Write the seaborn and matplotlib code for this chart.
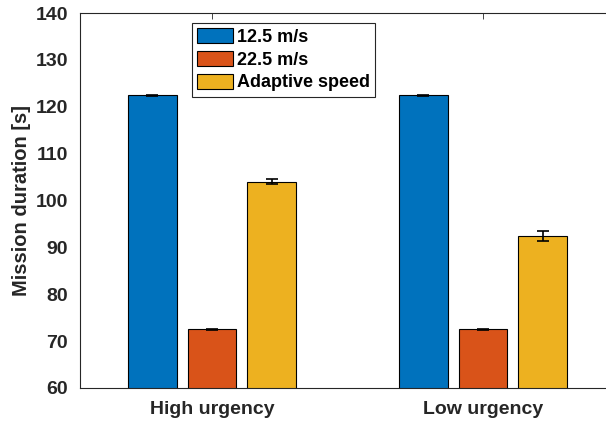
import matplotlib
matplotlib.use("Agg")
import matplotlib.pyplot as plt
import seaborn as sns
import pandas as pd
import numpy as np

# Mission duration per urgency level and speed strategy
scenarios = ["High urgency", "Low urgency"]
strategies = ["12.5 m/s", "22.5 m/s", "Adaptive speed"]
mean_high = [122.5, 72.5, 104.0]
mean_low = [122.5, 72.5, 92.4]
err_high = [0.1, 0.1, 0.55]
err_low = [0.1, 0.1, 1.0]

colors = ["#0072BD", "#D95319", "#EDB120"]
text_color = "#262626"

df = pd.DataFrame({
    "scenario": np.repeat(scenarios, len(strategies)),
    "strategy": strategies * len(scenarios),
    "duration": mean_high + mean_low,
    "err": err_high + err_low,
})

sns.set_style("white")
plt.rcParams["font.family"] = ["Liberation Sans", "DejaVu Sans"]
plt.rcParams["font.weight"] = "bold"

fig = plt.figure(figsize=(6.06, 4.24), dpi=100)
ax = fig.add_axes([80 / 606, 36 / 424, 526 / 606, 375 / 424])

sns.barplot(data=df, x="scenario", y="duration", hue="strategy",
            hue_order=strategies, order=scenarios, palette=colors,
            errorbar=None, width=0.66, gap=0.18, edgecolor="black",
            linewidth=0.8, saturation=1, ax=ax)

# error bars at each bar's centre
for i, strat in enumerate(strategies):
    container = ax.containers[i]
    sub = df[df["strategy"] == strat].set_index("scenario").loc[scenarios]
    xs = [p.get_x() + p.get_width() / 2 for p in container.patches]
    ax.errorbar(xs, sub["duration"].values, yerr=sub["err"].values,
                fmt="none", ecolor="black", elinewidth=1.2, capsize=4,
                capthick=1.2, zorder=5)

ax.set_ylim(60, 140)
ax.set_xlim(-0.487, 1.454)
ax.set_yticks(np.arange(60, 141, 10))
ax.set_xlabel("")
ax.set_ylabel("Mission duration [s]", fontsize=14.5, fontweight="bold",
              color=text_color, labelpad=3.5)

ax.tick_params(axis="both", direction="in", length=4, width=0.6,
               labelsize=14, colors=text_color)
ax.tick_params(axis="y", right=False, pad=8.5)
ax.tick_params(axis="x", top=True, pad=9)
for lab in ax.get_xticklabels() + ax.get_yticklabels():
    lab.set_fontweight("bold")

for side in ["left", "bottom", "top"]:
    ax.spines[side].set_visible(True)
    ax.spines[side].set_color(text_color)
    ax.spines[side].set_linewidth(0.8)
ax.spines["right"].set_visible(False)

leg = ax.legend(loc="upper left", bbox_to_anchor=(0.213, 0.973),
                prop={"weight": "bold", "size": 13},
                handlelength=2.0, handleheight=0.9, labelspacing=0.28,
                handletextpad=0.2, borderpad=0.28, borderaxespad=0,
                fancybox=False, framealpha=1, edgecolor="#262626")
leg.get_frame().set_linewidth(0.8)
for t in leg.get_texts():
    t.set_color("black")

fig.savefig("out.png", dpi=100)
